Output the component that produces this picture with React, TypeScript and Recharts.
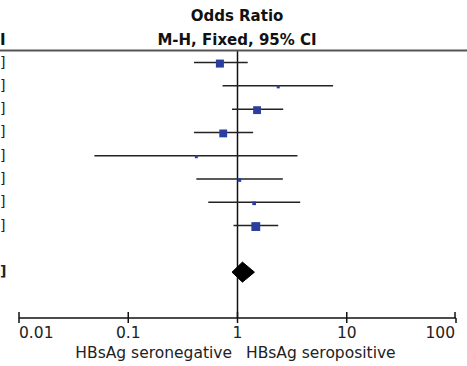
import { ScatterChart, Scatter, XAxis, YAxis, ReferenceLine } from 'recharts'

// study rows (names cropped off in the original, only the row order is kept)
const rows = [0, 1, 2, 3, 4, 5, 6, 7]
const oddsRatio = [0.69, 2.36, 1.51, 0.74, 0.42, 1.04, 1.42, 1.47]
const ciLow = [0.40, 0.73, 0.89, 0.40, 0.049, 0.42, 0.54, 0.92]
const ciHigh = [1.24, 7.5, 2.62, 1.39, 3.54, 2.6, 3.75, 2.36]
const weights = [21, 2.5, 20, 20, 2, 4.5, 4.5, 25.5]

const totalRow = 9
const totalOR = 1.11
const totalLow = 0.89
const totalHigh = 1.43

const xTicks = [0.01, 0.1, 1, 10, 100]
const xTickLabels = ['0.01', '0.1', '1', '10', '100']

const FONT = '"DejaVu Sans", sans-serif'
const SQUARE = '#2b3e9e'
const DIAMOND_HALF = 0.43

const studyData = rows.map(i => ({ x: oddsRatio[i], y: i, w: weights[i] }))
const diamondData = [
  { x: totalLow, y: totalRow },
  { x: totalOR, y: totalRow - DIAMOND_HALF },
  { x: totalHigh, y: totalRow },
  { x: totalOR, y: totalRow + DIAMOND_HALF },
  { x: totalLow, y: totalRow },
]

const SquareShape = (props: any) => {
  const { cx, cy, payload } = props
  const s = Math.max(3, 1.75 * Math.sqrt(payload.w))
  return <rect x={cx - s / 2} y={cy - s / 2 + 1} width={s} height={s} fill={SQUARE} />
}

const XTick = (props: any) => {
  const { x, y, index } = props
  const axisY = y - 7
  const anchor = index === 0 ? 'start' : index === xTicks.length - 1 ? 'end' : 'middle'
  return (
    <g>
      <line x1={x} x2={x} y1={axisY - 6} y2={axisY} stroke="#111" strokeWidth={1.5} />
      <text x={x} y={axisY + 20} textAnchor={anchor} fontSize={15.5} fontFamily={FONT} fill="#222">
        {xTickLabels[index]}
      </text>
    </g>
  )
}

// only the closing brackets of the (cropped) CI column are visible at the left edge
const YTick = (props: any) => {
  const { y, payload } = props
  return (
    <text x={0} y={y + 4} textAnchor="start" fontSize={14} fontFamily={FONT} fill="#222"
      fontWeight={payload.value === totalRow ? 'bold' : 'normal'}>
      ]
    </text>
  )
}

export default function App() {
  return (
    <div style={{ position: 'absolute', left: 0, top: 0, width: 467, height: 366, background: '#fff' }}>
      <ScatterChart width={467} height={366} margin={{ top: 50, right: 11, left: 0, bottom: 0 }}>
        <XAxis
          type="number" dataKey="x" scale="log" domain={[0.01, 100]} allowDataOverflow
          ticks={xTicks} height={48} tickSize={5} tickMargin={2}
          axisLine={{ stroke: '#111', strokeWidth: 1.5 }}
          tickLine={{ stroke: '#111', strokeWidth: 1.5 }}
          tick={XTick}
        />
        <YAxis
          type="number" dataKey="y" domain={[-0.54, 10.97]} allowDataOverflow reversed
          ticks={[...rows, totalRow]} width={19} axisLine={false} tickLine={false} tick={YTick}
        />
        <ReferenceLine x={1} stroke="#111" strokeWidth={1.5} />
        {rows.map(i => (
          <ReferenceLine
            key={i}
            segment={[{ x: ciLow[i], y: i }, { x: ciHigh[i], y: i }]}
            stroke="#222" strokeWidth={1.5}
          />
        ))}
        <Scatter data={studyData} shape={SquareShape} isAnimationActive={false} />
        <Scatter
          data={diamondData} shape={() => <g />} isAnimationActive={false}
          line={{ stroke: '#000', strokeWidth: 1, fill: '#000' }} lineJointType="linear"
        />
      </ScatterChart>
      <svg width={467} height={366} style={{ position: 'absolute', left: 0, top: 0, pointerEvents: 'none' }}>
        <text x={237} y={21} textAnchor="middle" fontSize={15} fontWeight="bold" fontFamily={FONT} fill="#111">
          Odds Ratio
        </text>
        <text x={237} y={45} textAnchor="middle" fontSize={15} fontWeight="bold" fontFamily={FONT} fill="#111">
          M-H, Fixed, 95% CI
        </text>
        <text x={0} y={45} textAnchor="start" fontSize={15} fontWeight="bold" fontFamily={FONT} fill="#111">
          I
        </text>
        <line x1={0} x2={467} y1={50.5} y2={50.5} stroke="#555" strokeWidth={1.8} />
        <text x={232} y={358} textAnchor="end" fontSize={15.5} fontFamily={FONT} fill="#222">
          HBsAg seronegative
        </text>
        <text x={246} y={358} textAnchor="start" fontSize={15.5} fontFamily={FONT} fill="#222">
          HBsAg seropositive
        </text>
      </svg>
    </div>
  )
}
